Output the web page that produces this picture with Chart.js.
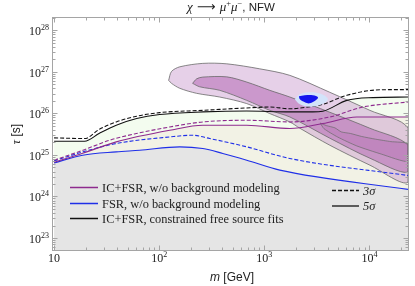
<!DOCTYPE html>
<html><head><meta charset="utf-8">
<script src="https://cdn.jsdelivr.net/npm/chart.js@4"></script>
<style>html,body{margin:0;padding:0;background:#fff;}canvas{display:block;}</style>
</head><body>
<canvas id="c" width="415" height="286"></canvas>
<script>
// ---- axis ticks ----
const xMajorTicks = [10, 100, 1000, 10000];
const xTickExp = [null, 2, 3, 4];
const yMajorTicks = [1e23, 1e24, 1e25, 1e26, 1e27, 1e28];
const yTickExp = [23, 24, 25, 26, 27, 28];

// ---- IC+FSR, constrained free source fits (black) ----
const blackDashM = [10, 19.5, 27, 39, 61, 101, 260, 681, 1128, 1750, 2900, 3600, 6100, 12600, 23300];
const blackDashT = [2.58e25, 2.49e25, 4.17e25, 6.25e25, 8.57e25, 1.05e26, 1.19e26, 1.36e26, 1.43e26, 1.30e26, 1.49e26, 1.66e26, 2.74e26, 3.72e26, 3.76e26];
const blackSolidM = [10, 19.5, 27, 39, 61, 101, 260, 681, 1750, 2900, 3600, 6100, 10800, 23300];
const blackSolidT = [2.15e25, 2.15e25, 3.34e25, 5.20e25, 7.53e25, 9.42e25, 1.09e26, 1.15e26, 1.09e26, 1.09e26, 1.13e26, 2.07e26, 2.41e26, 2.49e26];

// ---- IC+FSR, w/o background modeling (purple) ----
const purpleDashM = [10, 18.8, 33.8, 60.7, 126, 260, 681, 1750, 4200, 8670, 23300];
const purpleDashT = [7.50e24, 1.30e25, 2.27e25, 3.29e25, 4.73e25, 6.25e25, 6.87e25, 6.25e25, 8.24e25, 1.43e26, 1.89e26];
const purpleSolidM = [10, 18.7, 39, 126, 260, 681, 1750, 3600, 7600, 23300];
const purpleSolidT = [6.71e24, 1.10e25, 2.07e25, 3.94e25, 5.20e25, 5.20e25, 4.34e25, 5.71e25, 8.24e25, 8.24e25];

// ---- FSR, w/o background modeling (blue) ----
const blueDashM = [10, 18.8, 39, 126, 208, 303, 681, 1750, 23300];
const blueDashT = [7.21e24, 1.19e25, 1.89e25, 2.72e25, 2.99e25, 2.49e25, 1.57e25, 8.24e24, 3.20e24];
const blueSolidM = [10, 18.7, 39, 65.2, 157, 260, 403, 681, 1405, 23300];
const blueSolidT = [6.46e24, 9.9e24, 1.19e25, 1.30e25, 1.57e25, 1.43e25, 1.09e25, 7.50e24, 4.32e24, 1.48e24];

// ---- best-fit contours (IC+FSR w/o background) ----
const outerM = [123, 131, 157, 260, 440, 905, 1750, 4200, 10100, 23300, 23300, 10100, 4200, 2180, 1750, 1128, 681, 377, 227, 157, 131, 123];
const outerT = [6.28e26, 1.03e27, 1.33e27, 1.61e27, 1.57e27, 1.19e27, 8.28e26, 3.24e26, 1.19e26, 4.41e25, 2.22e24, 5.69e24, 1.72e25, 4.41e25, 6.25e25, 9.95e25, 1.73e26, 2.49e26, 3.06e26, 4.04e26, 5.32e26, 6.28e26];
const innerM = [208, 227, 260, 440, 681, 1128, 1750, 4200, 10100, 23300, 23300, 10100, 4200, 1750, 1128, 681, 377, 243, 208];
const innerT = [5.32e26, 6.82e26, 7.53e26, 7.62e26, 5.71e26, 3.61e26, 2.49e26, 1.07e26, 4.41e25, 1.72e25, 3.86e24, 8.37e24, 2.54e25, 8.24e25, 1.19e26, 2.07e26, 3.61e26, 4.39e26, 5.32e26];
// ---- constrained-fit inner contour (wavy) ----
const wavyM = [3400, 3900, 4700, 5400, 6600, 8400, 11500, 16000, 23300, 23300, 13000, 7600, 5000, 3700, 3400];
const wavyT = [5.9e25, 5.1e25, 4.5e25, 3.6e25, 3.3e25, 2.8e25, 2.4e25, 2.1e25, 1.85e25, 7.0e24, 1.05e25, 1.65e25, 2.7e25, 4.3e25, 5.9e25];
// ---- FSR best-fit spot ----
const haloM = [1950, 2180, 2770, 3530, 4030, 3530, 2770, 2180, 1950];
const haloT = [2.19e26, 2.90e26, 3.24e26, 2.90e26, 2.19e26, 1.66e26, 1.45e26, 1.66e26, 2.19e26];
const spotM = [2135, 2430, 2900, 3240, 3090, 2710, 2430, 2180, 2135];
const spotT = [2.59e26, 2.74e26, 2.74e26, 2.45e26, 2.07e26, 1.76e26, 1.86e26, 2.19e26, 2.59e26];

const pts = (ms, ts) => ms.map((m, i) => ({x: m, y: ts[i]}));
const PURPLE = '#8e2a8e', BLUE = '#1f2fe8', BLACK = '#111';

const datasets = [
  {data: pts(blackSolidM, blackSolidT), fill: 'start', backgroundColor: '#f3fcef', borderWidth: 0, order: 100, cubicInterpolationMode: 'monotone'},
  {data: pts(purpleSolidM, purpleSolidT), fill: 'start', backgroundColor: '#f2f2e5', borderWidth: 0, order: 99, cubicInterpolationMode: 'monotone'},
  {data: pts(blueSolidM, blueSolidT), fill: 'start', backgroundColor: '#e5e5e5', borderWidth: 0, order: 98, cubicInterpolationMode: 'monotone'},
  {data: pts(outerM, outerT), fill: 'shape', backgroundColor: 'rgba(200,150,205,0.45)', borderColor: '#6a6a6a', borderWidth: 0.8, order: 90, tension: 0.3},
  {data: pts(innerM, innerT), fill: 'shape', backgroundColor: 'rgba(175,95,175,0.5)', borderColor: '#6a6a6a', borderWidth: 0.8, order: 88, tension: 0.3},
  {data: pts(wavyM, wavyT), fill: 'shape', backgroundColor: 'rgba(170,90,170,0.25)', borderColor: '#6a6a6a', borderWidth: 0.7, order: 87, tension: 0.2},
  {data: pts(blueDashM, blueDashT), borderColor: BLUE, borderDash: [4, 2], borderWidth: 1.1, fill: false, order: 20, cubicInterpolationMode: 'monotone'},
  {data: pts(blueSolidM, blueSolidT), borderColor: BLUE, borderWidth: 1.1, fill: false, order: 19, cubicInterpolationMode: 'monotone'},
  {data: pts(purpleDashM, purpleDashT), borderColor: PURPLE, borderDash: [4, 2], borderWidth: 1.1, fill: false, order: 18, cubicInterpolationMode: 'monotone'},
  {data: pts(purpleSolidM, purpleSolidT), borderColor: PURPLE, borderWidth: 1.1, fill: false, order: 17, cubicInterpolationMode: 'monotone'},
  {data: pts(blackDashM, blackDashT), borderColor: BLACK, borderDash: [4, 2], borderWidth: 1.1, fill: false, order: 16, cubicInterpolationMode: 'monotone'},
  {data: pts(blackSolidM, blackSolidT), borderColor: BLACK, borderWidth: 1.1, fill: false, order: 15, cubicInterpolationMode: 'monotone'},
  {data: pts(haloM, haloT), fill: 'shape', backgroundColor: '#d3e3fa', borderWidth: 0, order: 6, tension: 0.4},
  {data: pts(spotM, spotT), fill: 'shape', backgroundColor: '#1414ee', borderWidth: 0, order: 5, tension: 0.4},
];
datasets.forEach(d => { d.pointRadius = 0; d.pointHoverRadius = 0; });

function drawPow(ctx, base, exp, x, y, align, baseFont, supFont) {
  ctx.font = baseFont; const w1 = ctx.measureText(base).width;
  let w2 = 0;
  if (exp !== null) { ctx.font = supFont; w2 = ctx.measureText(String(exp)).width; }
  const tot = w1 + w2;
  let x0 = align === 'right' ? x - tot : x - tot / 2;
  ctx.textAlign = 'left';
  ctx.font = baseFont; ctx.fillText(base, x0, y);
  if (exp !== null) { ctx.font = supFont; ctx.fillText(String(exp), x0 + w1, y - 5); }
}
function seq(ctx, parts, cx, y) {
  let tot = 0;
  parts.forEach(p => { ctx.font = p[1]; p.w = ctx.measureText(p[0]).width; tot += p.w; });
  let x = cx - tot / 2;
  ctx.textAlign = 'left';
  parts.forEach(p => { ctx.font = p[1]; ctx.fillText(p[0], x, y + (p[2] || 0)); x += p.w; });
}

const SERIF = '"Liberation Serif", "DejaVu Serif", serif';
const SANS = '"Liberation Sans", Arial, sans-serif';

const deco = {
  id: 'deco',
  afterDraw(chart) {
    const {ctx, chartArea: a, scales: {x: xs, y: ys}} = chart;
    ctx.save();
    const L = (x1, y1, x2, y2) => { ctx.beginPath(); ctx.moveTo(x1, y1); ctx.lineTo(x2, y2); ctx.stroke(); };
    ctx.strokeStyle = '#a5a5a5'; ctx.lineWidth = 1;
    const l = Math.round(a.left) + 0.5, r = Math.round(a.right) + 0.5, t = Math.round(a.top) + 0.5, b = Math.round(a.bottom) + 0.5;
    ctx.strokeRect(l, t, r - l, b - t);
    xMajorTicks.forEach(v0 => { for (let k = 1; k <= 9; k++) { const v = k * v0; if (v < xs.min || v > xs.max) continue;
      const p = Math.round(xs.getPixelForValue(v)) + 0.5; const len = k === 1 ? 5 : 3; L(p, b, p, b - len); L(p, t, p, t + len); } });
    [1e22].concat(yMajorTicks).forEach(v0 => { for (let k = 1; k <= 9; k++) { const v = k * v0; if (v < ys.min || v > ys.max) continue;
      const p = Math.round(ys.getPixelForValue(v)) + 0.5; const len = k === 1 ? 5 : 3; L(l, p, l + len, p); L(r, p, r - len, p); } });
    ctx.fillStyle = '#222'; ctx.textBaseline = 'alphabetic';
    xMajorTicks.forEach((v, i) => drawPow(ctx, '10', xTickExp[i], xs.getPixelForValue(v), 262, 'center', '12px ' + SERIF, '8px ' + SERIF));
    yMajorTicks.forEach((v, i) => drawPow(ctx, '10', yTickExp[i], 49, ys.getPixelForValue(v) + 5, 'right', '12px ' + SERIF, '8px ' + SERIF));
    ctx.fillStyle = '#222';
    seq(ctx, [['χ', 'italic 13px ' + SERIF], [' ⟶ ', '13px "DejaVu Sans"'], ['μ', 'italic 13px ' + SERIF], ['+', '8.5px ' + SERIF, -5], ['μ', 'italic 13px ' + SERIF], ['−', '8.5px ' + SERIF, -5], [', NFW', '11.5px ' + SANS]], 231, 11);
    seq(ctx, [['m', 'italic 12px ' + SANS], [' [GeV]', '12px ' + SANS]], 232, 281);
    ctx.save(); ctx.translate(20, 134); ctx.rotate(-Math.PI / 2);
    seq(ctx, [['τ', 'italic 12px ' + SERIF], [' [s]', '12px ' + SANS]], 0, 0);
    ctx.restore();
    const leg = [[PURPLE, 187.5, 'IC+FSR, w/o background modeling'], [BLUE, 203.5, 'FSR, w/o background modeling'], [BLACK, 218.5, 'IC+FSR, constrained free source fits']];
    leg.forEach(([c, y, txt]) => { ctx.strokeStyle = c; ctx.lineWidth = 1.5; L(70, y, 98, y); ctx.fillStyle = '#222'; ctx.font = '12.4px ' + SERIF; ctx.textAlign = 'left'; ctx.fillText(txt, 102, y + 4); });
    ctx.strokeStyle = '#111'; ctx.lineWidth = 1.3;
    ctx.setLineDash([4, 2]); L(332, 190.5, 359, 190.5); ctx.setLineDash([]); L(332, 206, 359, 206);
    ctx.fillStyle = '#222'; ctx.font = 'italic 12.4px ' + SERIF;
    ctx.fillText('3σ', 363, 194.5); ctx.fillText('5σ', 363, 210);
    ctx.restore();
  }
};

new Chart(document.getElementById('c'), {
  type: 'line',
  data: {datasets},
  options: {
    responsive: false, animation: false, devicePixelRatio: 1,
    layout: {padding: {left: 52, right: 7, top: 17, bottom: 36}},
    plugins: {legend: {display: false}, tooltip: {enabled: false}, title: {display: false}},
    scales: {
      x: {type: 'logarithmic', min: 9.55, max: 23300, display: false},
      y: {type: 'logarithmic', min: 5.14e22, max: 2.11e28, display: false}
    }
  },
  plugins: [deco]
});
</script>
</body></html>
